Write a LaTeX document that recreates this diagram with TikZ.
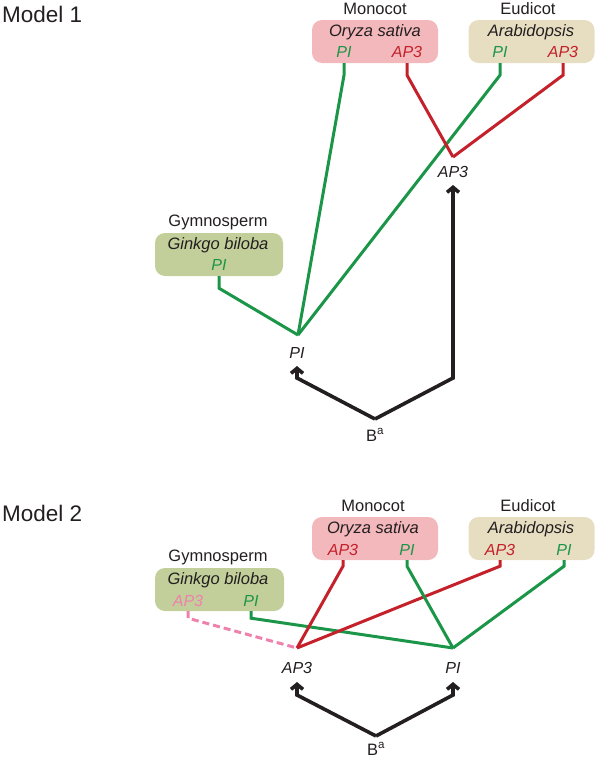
\documentclass[tikz,border=0pt]{standalone}
\usepackage{fontspec}
\setmainfont{Liberation Sans}
\usetikzlibrary{arrows.meta}
\definecolor{genegreen}{HTML}{1B9547}
\definecolor{genered}{HTML}{C4212B}
\definecolor{genepink}{HTML}{EE82AC}
\definecolor{monofill}{HTML}{F3B8BB}
\definecolor{eudifill}{HTML}{E7DDC1}
\definecolor{gymnofill}{HTML}{C2CF9B}
\definecolor{inkblack}{HTML}{231F20}
\tikzstyle{pline}=[line width=3pt,line join=miter]
\tikzstyle{barrow}=[draw=inkblack,line width=3.6pt,line join=miter,-{Straight Barb[length=5pt,width=12pt]}]

\begin{document}
\begin{tikzpicture}
  [x=1pt,y=-1pt,
   box/.style={rounded corners=10pt,minimum width=126pt,minimum height=43pt,inner sep=0pt},
   clade/.style={text=inkblack,font=\fontsize{16.5}{18}\selectfont},
   species/.style={text=inkblack,font=\fontsize{16.5}{18}\selectfont\itshape},
   gene/.style={font=\fontsize{16}{18}\selectfont\itshape,inner sep=0pt},
   model/.style={text=inkblack,font=\fontsize{22.5}{24}\selectfont,anchor=base west,inner sep=0pt}
  ]
  \useasboundingbox (0,0) rectangle (598,758);

  % model 1
  \begin{scope}
    \node[model] (m1) at (2,22) {Model 1};

    \node[box,fill=monofill] (o1) at (375,41.5) {};
    \node[clade] at (375,9) {Monocot};
    \node[species] at (375,32) {Oryza sativa};
    \node[gene,genegreen] (o1pi) at (344,52) {PI};
    \node[gene,genered]   (o1ap) at (407,52) {AP3};

    \node[box,fill=eudifill] (a1) at (531.5,41.5) {};
    \node[clade] at (528,9) {Eudicot};
    \node[species] at (531,32) {Arabidopsis};
    \node[gene,genegreen] (a1pi) at (500,52) {PI};
    \node[gene,genered]   (a1ap) at (563,52) {AP3};

    \node[box,fill=gymnofill,minimum width=128pt] (g1) at (219,254.5) {};
    \node[clade] at (218,222) {Gymnosperm};
    \node[species] at (218,245) {Ginkgo biloba};
    \node[gene,genegreen] (g1pi) at (219,265) {PI};

    \coordinate (j1pi) at (298,335);
    \coordinate (j1ap) at (453,157);
    \node[gene,inkblack] (pi1) at (297,353) {PI};
    \node[gene,inkblack] (ap1) at (453,172) {AP3};
    \coordinate (t1pi) at (297,366);
    \coordinate (t1ap) at (453,185);
    \coordinate (v1) at (375,419);
    \node[clade] (b1) at (375,435) {B\textsuperscript{a}};

    \draw[pline,genegreen] (o1pi |- o1.south) -- ++(0,12) -- (j1pi);
    \draw[pline,genegreen] (a1pi |- a1.south) -- ++(0,12) -- (j1pi);
    \draw[pline,genegreen] (g1pi |- g1.south) -- ++(0,12) -- (j1pi);
    \draw[pline,genered] (o1ap |- o1.south) -- ++(0,12) -- (j1ap);
    \draw[pline,genered] (a1ap |- a1.south) -- ++(0,12) -- (j1ap);

    \draw[barrow] (v1) -- (t1pi |- 0,378) -- (t1pi);
    \draw[barrow] (v1) -- (t1ap |- 0,378) -- (t1ap);
  \end{scope}

  % model 2
  \begin{scope}
    \node[model] (m2) at (2,521) {Model 2};

    \node[box,fill=monofill] (o2) at (375,538.5) {};
    \node[clade] at (373,506) {Monocot};
    \node[species] at (373,529) {Oryza sativa};
    \node[gene,genered]   (o2ap) at (343,550) {AP3};
    \node[gene,genegreen] (o2pi) at (407,550) {PI};

    \node[box,fill=eudifill] (a2) at (531.5,538.5) {};
    \node[clade] at (528,506) {Eudicot};
    \node[species] at (531,529) {Arabidopsis};
    \node[gene,genered]   (a2ap) at (500,550) {AP3};
    \node[gene,genegreen] (a2pi) at (564,550) {PI};

    \node[box,fill=gymnofill,minimum width=129pt] (g2) at (219.5,589.5) {};
    \node[clade] at (218,557) {Gymnosperm};
    \node[species] at (218,580) {Ginkgo biloba};
    \node[gene,genepink]  (g2ap) at (188,601) {AP3};
    \node[gene,genegreen] (g2pi) at (251,601) {PI};

    \coordinate (j2ap) at (297,648);
    \coordinate (j2pi) at (453,648);
    \node[gene,inkblack] (ap2) at (297,668) {AP3};
    \node[gene,inkblack] (pi2) at (453,668) {PI};
    \coordinate (t2ap) at (297,682);
    \coordinate (t2pi) at (453,682);
    \coordinate (v2) at (376,736);
    \node[clade] (b2) at (376,749) {B\textsuperscript{a}};

    \draw[pline,genepink,dash pattern=on 7pt off 4pt] (g2ap |- g2.south) -- ++(0,7) -- (j2ap);
    \draw[pline,genegreen] (g2pi |- g2.south) -- ++(0,7) -- (j2pi);
    \draw[pline,genered] (o2ap |- o2.south) -- ++(0,6) -- (j2ap);
    \draw[pline,genered] (a2ap |- a2.south) -- ++(0,6) -- (j2ap);
    \draw[pline,genegreen] (o2pi |- o2.south) -- ++(0,6) -- (j2pi);
    \draw[pline,genegreen] (a2pi |- a2.south) -- ++(0,6) -- (j2pi);

    \draw[barrow] (v2) -- (t2ap |- 0,695) -- (t2ap);
    \draw[barrow] (v2) -- (t2pi |- 0,695) -- (t2pi);
  \end{scope}
\end{tikzpicture}
\end{document}
